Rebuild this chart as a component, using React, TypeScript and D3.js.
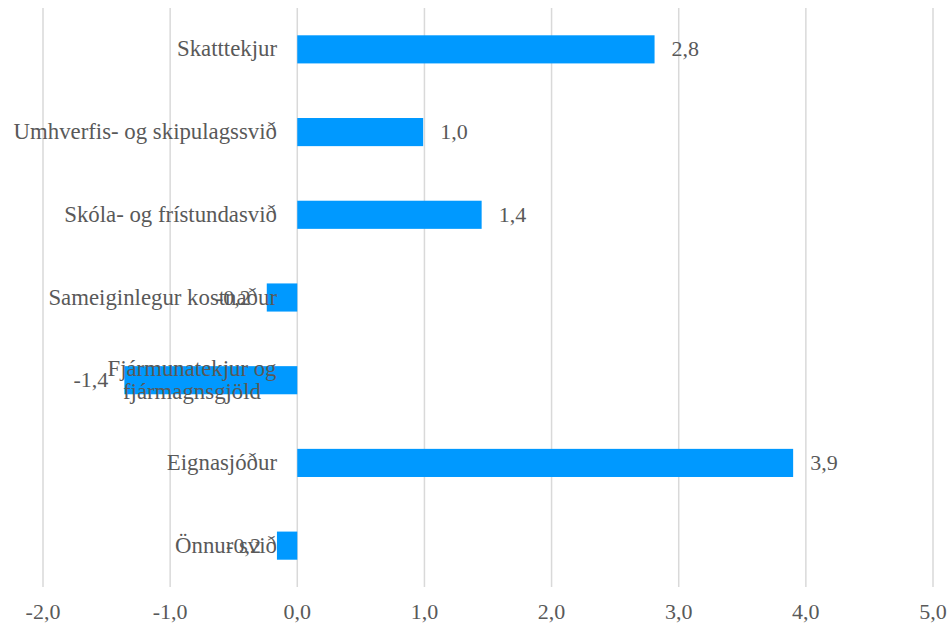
import React from "react";
import * as d3 from "d3";

const categories = [
  "Skatttekjur",
  "Umhverfis- og skipulagssvið",
  "Skóla- og frístundasvið",
  "Sameiginlegur kostnaður",
  "Fjármunatekjur og fjármagnsgjöld",
  "Eignasjóður",
  "Önnur svið",
];
const values = [2.81, 0.99, 1.45, -0.24, -1.36, 3.9, -0.16];
const labels = ["2,8", "1,0", "1,4", "-0,2", "-1,4", "3,9", "-0,2"];
const ticks = [-2, -1, 0, 1, 2, 3, 4, 5];

const W = 947;
const H = 627;
const FONT = "Liberation Serif";
const TEXT = "#595959";

function wrapLabel(s: string): string[] {
  if (s === "Fjármunatekjur og fjármagnsgjöld") return ["Fjármunatekjur og", "fjármagnsgjöld"];
  return [s];
}

export default function App() {
  const x = d3.scaleLinear().domain([-2, 5]).range([43, 933]);
  const y = d3.scaleBand<string>().domain(categories).range([8, 587]).paddingInner(0.66).paddingOuter(0.33);
  const fmt = (v: number) => v.toFixed(1).replace(".", ",");
  const ts = { fontFamily: FONT, fontSize: 22 };
  const cs = { fontFamily: FONT, fontSize: 22.8 };
  return (
    <svg width={W} height={H} style={{ position: "absolute", left: 0, top: 0, background: "#fff" }}>
      {ticks.map((t) => (
        <line key={"g" + t} x1={x(t)} x2={x(t)} y1={8} y2={587} stroke="#d9d9d9" strokeWidth={1.5} />
      ))}
      {categories.map((c, i) => {
        const v = values[i];
        const y0 = y(c)!;
        const bh = y.bandwidth();
        const cy = y0 + bh / 2;
        return (
          <g key={c}>
            <rect x={x(Math.min(0, v))} y={y0} width={Math.abs(x(v) - x(0))} height={bh} fill="#0099ff" />
            <text
              x={v >= 0 ? x(v) + 17 : x(v) - 16}
              y={cy + 7}
              textAnchor={v >= 0 ? "start" : "end"}
              style={ts}
              fill={TEXT}
            >
              {labels[i]}
            </text>
          </g>
        );
      })}
      {categories.map((c) => {
        const lines = wrapLabel(c);
        const cy = y(c)! + y.bandwidth() / 2;
        if (lines.length === 1) {
          return (
            <text key={"l" + c} x={277} y={cy + 7} textAnchor="end" style={cs} fill={TEXT}>
              {c}
            </text>
          );
        }
        return (
          <text key={"l" + c} x={192} y={cy - 4} textAnchor="middle" style={cs} fill={TEXT}>
            {lines.map((l, k) => (
              <tspan key={k} x={192} dy={k === 0 ? 0 : 23}>
                {l}
              </tspan>
            ))}
          </text>
        );
      })}
      {ticks.map((t) => (
        <text key={"t" + t} x={x(t)} y={619} textAnchor="middle" style={ts} fill={TEXT}>
          {fmt(t)}
        </text>
      ))}
    </svg>
  );
}
